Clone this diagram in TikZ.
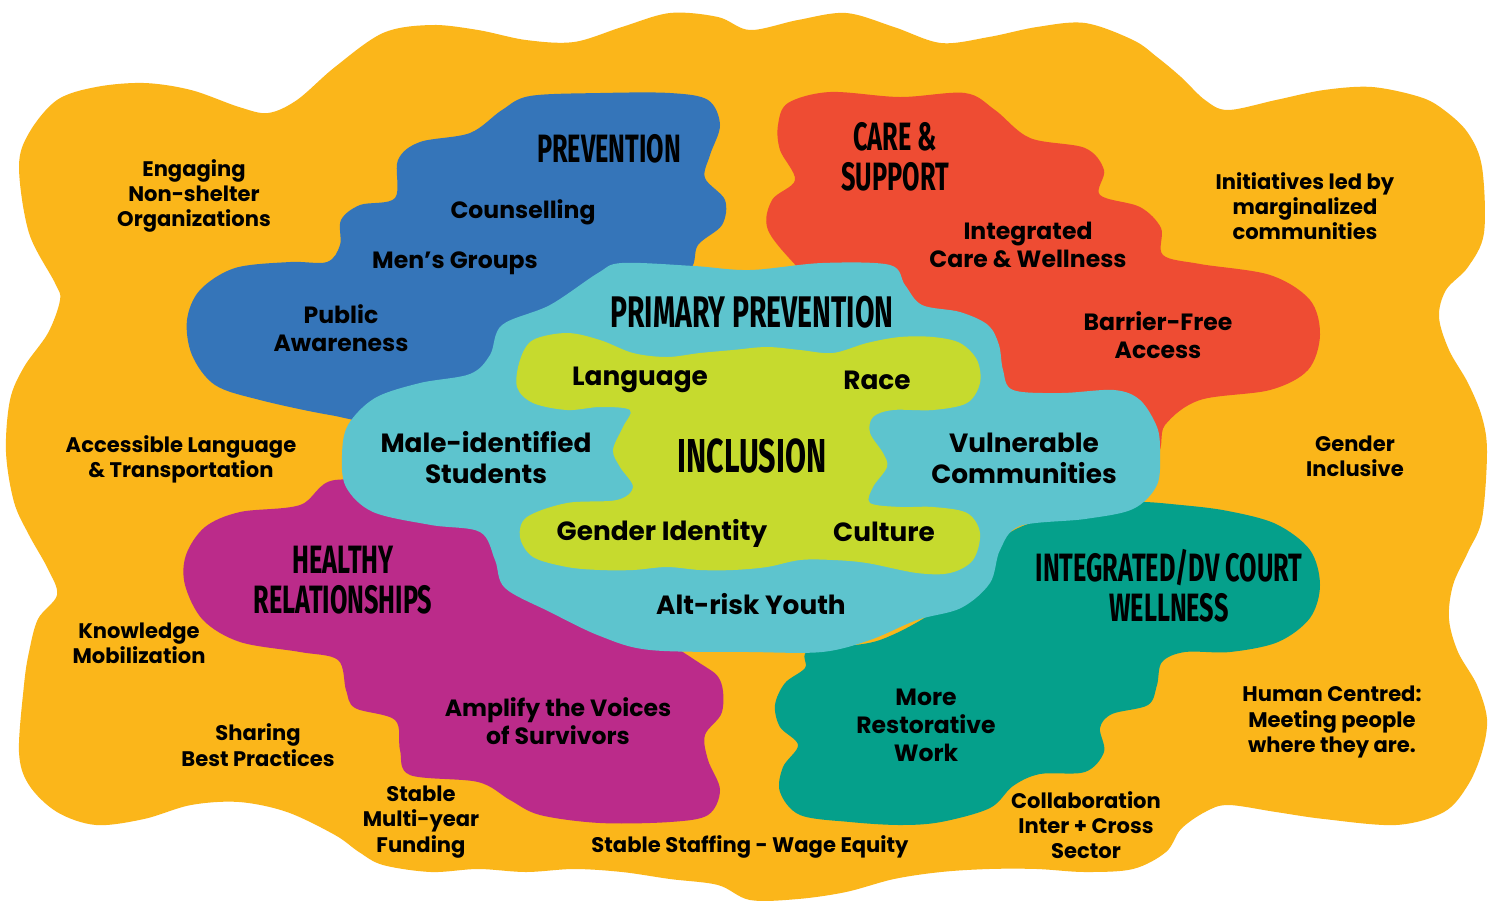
\documentclass[tikz,border=0pt]{standalone}
\usepackage{fontspec}
\setmainfont{Poppins}
\newfontfamily\headfont[FakeStretch=0.64]{Fira Sans}
\definecolor{sunC}{HTML}{FBB61A}
\definecolor{prevC}{HTML}{3575B9}
\definecolor{careC}{HTML}{EE4C33}
\definecolor{healC}{HTML}{BB2B8A}
\definecolor{courtC}{HTML}{05A08B}
\definecolor{primC}{HTML}{5DC4CE}
\definecolor{inclC}{HTML}{C6DA2E}

\begin{document}
\begin{tikzpicture}[x=0.02cm,y=-0.02cm,
    blob/.style={smooth cycle,tension=0.55},
    outer/.style={font=\fontsize{12}{14.4}\selectfont\bfseries,align=center,inner sep=0pt},
    inner/.style={font=\fontsize{13.4}{15.9}\selectfont\bfseries,align=center,inner sep=0pt},
    core/.style={font=\fontsize{15}{17.6}\selectfont\bfseries,align=center,inner sep=0pt},
    head/.style={font=\headfont\fontsize{22.5}{22.6}\selectfont\bfseries,align=center,inner sep=0pt}]
    \fill[white] (0,0) rectangle (1499,904);
    \useasboundingbox (0,0) rectangle (1499,904);
    % outer yellow ground
    \fill[sunC] plot[blob] coordinates {(19,167) (29,133) (57,100) (96,87) (144,83) (191,90) (239,107) (268,113) (297,100) (335,67) (383,33) (431,25) (478,30) (526,40) (574,42) (622,27) (670,13) (718,17) (750,30) (798,20) (846,13) (894,27) (941,43) (989,37) (1037,27) (1085,23) (1133,40) (1157,57) (1181,77) (1205,100) (1228,110) (1276,100) (1324,90) (1372,87) (1420,97) (1444,110) (1468,133) (1482,167) (1484,233) (1468,267) (1446,290) (1439,317) (1449,350) (1468,383) (1482,417) (1487,452) (1482,519) (1468,552) (1453,585) (1449,619) (1458,652) (1477,685) (1487,719) (1482,752) (1468,785) (1444,812) (1396,825) (1324,819) (1276,812) (1228,805) (1205,812) (1181,829) (1166,852) (1133,869) (1085,872) (1037,869) (989,869) (941,872) (894,879) (846,892) (798,899) (750,900) (718,885) (670,879) (622,872) (574,869) (526,872) (478,869) (431,872) (383,865) (359,852) (335,835) (287,812) (239,802) (191,805) (144,819) (96,825) (57,812) (29,785) (19,752) (24,685) (29,652) (38,619) (57,595) (48,569) (29,535) (14,502) (6,452) (10,400) (24,367) (48,333) (60,300) (55,283) (29,233)};
    % four quadrants
    \fill[prevC] plot[blob] coordinates {(502,110) (530,96) (600,93) (670,93) (708,100) (720,125) (710,155) (705,178) (725,200) (722,225) (698,245) (690,270) (650,300) (560,330) (460,390) (380,420) (330,415) (260,400) (215,385) (192,355) (187,320) (200,290) (235,268) (290,262) (327,262) (340,245) (341,220) (360,205) (395,198) (398,160) (420,142) (470,133)};
    \fill[careC] plot[blob] coordinates {(788,103) (830,92) (900,97) (965,93) (995,110) (1030,138) (1085,148) (1104,170) (1100,195) (1140,207) (1161,228) (1163,255) (1200,264) (1270,275) (1310,300) (1320,335) (1308,370) (1270,390) (1200,400) (1165,425) (1150,460) (1050,470) (950,400) (850,320) (800,270) (768,230) (772,200) (795,180) (780,150) (778,125)};
    \fill[healC] plot[blob] coordinates {(335,480) (300,505) (240,512) (205,527) (186,555) (185,585) (203,620) (240,642) (300,652) (338,660) (346,690) (355,708) (395,720) (400,750) (410,775) (478,782) (510,800) (540,815) (600,823) (670,822) (708,815) (720,790) (708,760) (705,735) (722,712) (720,680) (695,660) (600,600) (500,540) (420,490)};
    \fill[courtC] plot[blob] coordinates {(810,650) (805,668) (785,683) (775,705) (780,727) (798,745) (783,767) (780,792) (800,815) (850,822) (900,825) (941,822) (990,808) (1013,786) (1040,774) (1085,772) (1104,752) (1100,728) (1112,714) (1148,705) (1157,685) (1162,662) (1185,652) (1230,652) (1278,642) (1310,618) (1320,585) (1310,550) (1276,524) (1228,511) (1181,505) (1133,502) (1090,510) (1040,520) (1000,540) (950,600) (880,640)};
    % centre
    \fill[primC] plot[blob] coordinates {(750,270) (694,266) (622,263) (598,273) (550,305) (502,325) (490,355) (470,374) (420,383) (375,398) (348,425) (342,455) (346,487) (373,512) (431,525) (480,532) (495,560) (505,588) (550,612) (600,636) (650,650) (750,652) (822,652) (870,640) (917,620) (961,608) (990,583) (1000,550) (1020,526) (1085,519) (1133,509) (1157,485) (1160,452) (1157,427) (1140,400) (1114,390) (1061,393) (1013,390) (1003,370) (999,345) (988,325) (960,312) (922,305) (905,285) (890,265) (822,263)};
    \fill[inclC] plot[blob] coordinates {(533,340) (567,333) (600,340) (633,353) (667,357) (700,353) (733,350) (767,347) (800,350) (833,353) (867,343) (900,337) (933,337) (960,343) (977,360) (980,383) (967,403) (933,410) (893,410) (873,417) (870,433) (883,453) (887,467) (873,487) (870,503) (900,507) (933,507) (967,513) (980,533) (973,560) (950,573) (917,573) (867,563) (833,560) (800,560) (767,567) (733,570) (700,570) (667,567) (633,570) (600,570) (567,567) (533,557) (520,537) (527,517) (567,503) (617,500) (633,487) (620,467) (613,450) (623,427) (630,410) (600,407) (567,410) (533,403) (517,387) (520,360)};

    % titles
    \node[head] (prevT) at (609,149) {PREVENTION};
    \node[head] (careT) at (895,157) {CARE \&\\SUPPORT};
    \node[head,font=\headfont\fontsize{25.2}{26}\selectfont\bfseries] (primT) at (752,312) {PRIMARY PREVENTION};
    \node[head,font=\headfont\fontsize{27.1}{28}\selectfont\bfseries] (inclT) at (752,456) {INCLUSION};
    \node[head] (healT) at (343,580) {HEALTHY\\RELATIONSHIPS};
    \node[head] (courtT) at (1169,586) {INTEGRATED/DV COURT\\WELLNESS};

    % inside the quadrants
    \node[inner] (couns) at (523,212) {Counselling};
    \node[inner] (mens) at (455,263) {Men’s Groups};
    \node[inner] (publ) at (341,328) {Public\\Awareness};
    \node[inner] (integ) at (1028,245) {Integrated\\Care \& Wellness};
    \node[inner] (barr) at (1158,335) {Barrier-Free\\Access};
    \node[inner] (ampl) at (558,721) {Amplify the Voices\\of Survivors};
    \node[inner] (resto) at (926,725) {More\\Restorative\\Work};

    % centre words
    \node[core] (lang) at (640,380) {Language};
    \node[core] (race) at (877,380) {Race};
    \node[core] (male) at (486,458) {Male-identified\\Students};
    \node[core] (vuln) at (1024,458) {Vulnerable\\Communities};
    \node[core] (gend) at (662,533) {Gender Identity};
    \node[core] (cult) at (884,532) {Culture};
    \node[core] (youth) at (751,604) {Alt-risk Youth};

    % around the edge
    \node[outer] (engag) at (194,196) {Engaging\\Non-shelter\\Organizations};
    \node[outer] (initi) at (1305,206) {Initiatives led by\\marginalized\\communities};
    \node[outer] (acces) at (181,459) {Accessible Language\\\& Transportation};
    \node[outer] (gincl) at (1355,456) {Gender\\Inclusive};
    \node[outer] (knowl) at (139,643) {Knowledge\\Mobilization};
    \node[outer] (human) at (1332,722) {Human Centred:\\Meeting people\\where they are.};
    \node[outer] (share) at (258,745) {Sharing\\Best Practices};
    \node[outer] (fund) at (421,822) {Stable\\Multi-year\\Funding};
    \node[outer] (staff) at (750,847) {Stable Staffing - Wage Equity};
    \node[outer] (collab) at (1086,825) {Collaboration\\Inter + Cross\\Sector};
\end{tikzpicture}
\end{document}
